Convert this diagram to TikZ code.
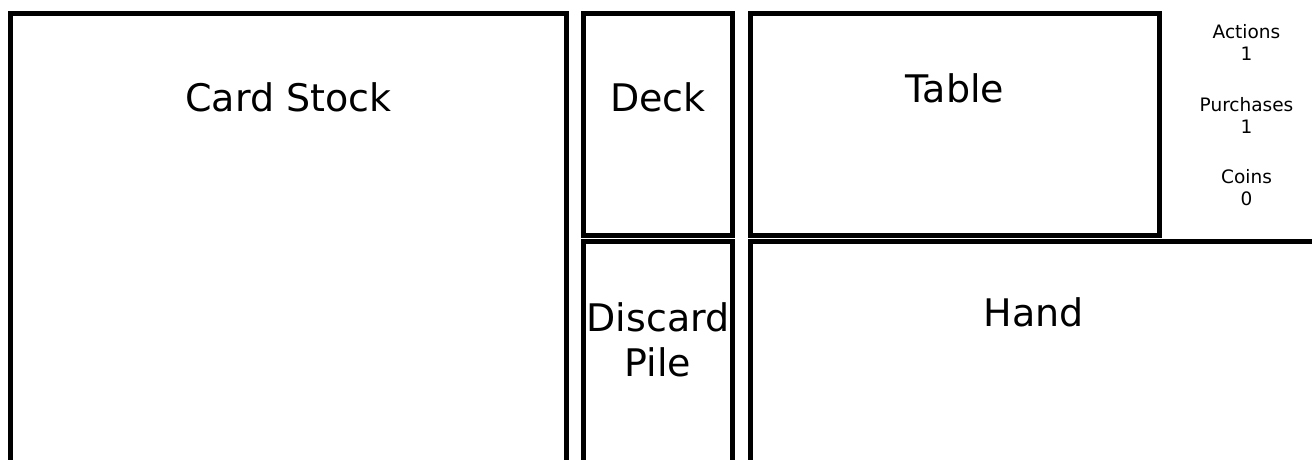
\documentclass[tikz,border=0pt]{standalone}
\usepackage{fontspec}
\setmainfont{DejaVu Sans}
\begin{document}
\begin{tikzpicture}[x=1pt,y=-1pt,
  pane/.style={draw=black,line width=5pt,line join=miter},
  bigtext/.style={anchor=base,inner sep=0pt,font=\fontsize{38}{45}\selectfont},
  smalltext/.style={anchor=base,inner sep=0pt,font=\fontsize{18.5}{22}\selectfont}]
\useasboundingbox (0,0) rectangle (1312,460);
\clip (0,0) rectangle (1312,460);
\fill[white] (0,0) rectangle (1312,460);
% panes
\draw[pane] (10.5,13.5) rectangle (566.5,480);
\draw[pane] (583.5,13.5) rectangle (732.5,235.5);
\draw[pane] (583.5,241.5) rectangle (732.5,480);
\draw[pane] (750.5,13.5) rectangle (1159.5,235);
\draw[pane] (750.5,241.5) rectangle (1330,480);
% labels
\node[bigtext] (stock) at (288.5,111.5) {Card Stock};
\node[bigtext] (deck) at (658,111.5) {Deck};
\node[bigtext] (discard) at (658,331.7) {Discard};
\node[bigtext] (pile) at (658,376.7) {Pile};
\node[bigtext] (table) at (955,102.7) {Table};
\node[bigtext] (hand) at (1034,326.7) {Hand};
\node[smalltext] (actions) at (1246.5,38.3) {Actions};
\node[smalltext] (actionsv) at (1246.5,60.5) {1};
\node[smalltext] (purch) at (1246.5,111.7) {Purchases};
\node[smalltext] (purchv) at (1246.5,133.7) {1};
\node[smalltext] (coins) at (1246.5,183.3) {Coins};
\node[smalltext] (coinsv) at (1246.5,205.3) {0};
\end{tikzpicture}
\end{document}
